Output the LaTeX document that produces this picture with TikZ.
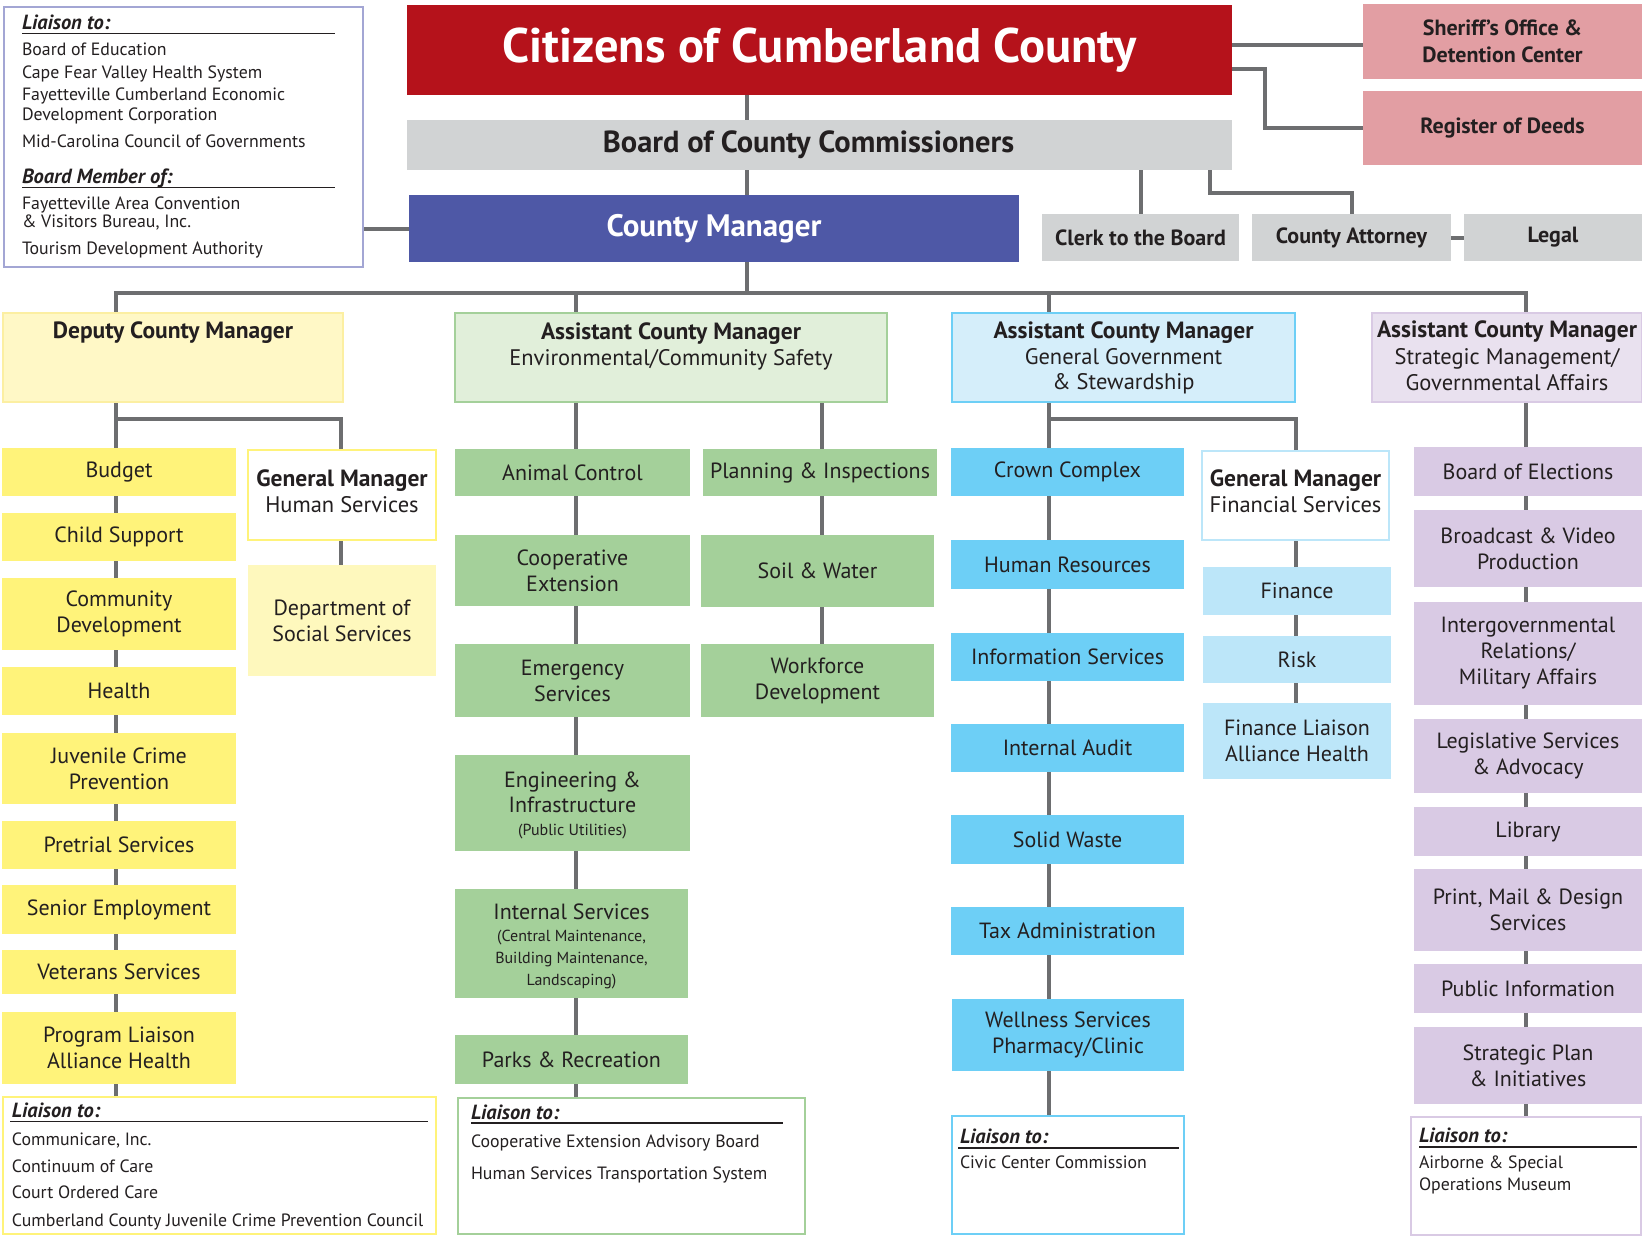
\documentclass[tikz,border=0pt]{standalone}
\usepackage{fontspec}
\setmainfont{PT Sans}
\usetikzlibrary{backgrounds}

\definecolor{ink}{HTML}{231F20}
\definecolor{linegray}{HTML}{6D6E70}
\definecolor{cred}{HTML}{B5121B}
\definecolor{cgray}{HTML}{D1D3D4}
\definecolor{cblue}{HTML}{4E58A6}
\definecolor{cpink}{HTML}{E29EA3}
\definecolor{cframe}{HTML}{A3A6D4}
\definecolor{yhead}{HTML}{FFF8C6}
\definecolor{yheadline}{HTML}{FCEFA2}
\definecolor{ybox}{HTML}{FFF37A}
\definecolor{ylight}{HTML}{FEF8BD}
\definecolor{ghead}{HTML}{E1EFDA}
\definecolor{gbox}{HTML}{A4D09A}
\definecolor{bhead}{HTML}{D5EEFA}
\definecolor{bbox}{HTML}{6DCFF6}
\definecolor{blight}{HTML}{BCE6F9}
\definecolor{phead}{HTML}{E9E1EF}
\definecolor{pbox}{HTML}{D9CAE4}

\newcommand\bodyfont{\fontsize{22}{26}\selectfont}
\newcommand\smallfont{\fontsize{16}{21.5}\selectfont}
\newcommand\headbf[1]{{\fontsize{23.5}{26}\selectfont\bfseries #1}}

\tikzset{
  x=1pt, y=-1pt,
  box/.style={inner sep=0pt, outer sep=0pt, align=center, text=ink, font=\bodyfont},
  redbox/.style={box, fill=cred, text=white, font=\fontsize{48.5}{52}\selectfont\bfseries},
  graybox/.style={box, fill=cgray},
  mgrbox/.style={box, fill=cblue, text=white, font=\fontsize{31}{34}\selectfont\bfseries},
  pinkbox/.style={box, fill=cpink, font=\fontsize{22}{27}\selectfont\bfseries},
  framebox/.style={box, fill=white, draw=cframe, line width=1.5pt},
  yhd/.style={box, fill=yhead, draw=yheadline, line width=1.5pt},
  ybx/.style={box, fill=ybox},
  ywhite/.style={box, fill=white, draw=ybox, line width=1.5pt},
  ylt/.style={box, fill=ylight},
  ghd/.style={box, fill=ghead, draw=gbox, line width=1.5pt},
  gbx/.style={box, fill=gbox},
  gwhite/.style={box, fill=white, draw=gbox, line width=1.5pt},
  bhd/.style={box, fill=bhead, draw=bbox, line width=1.5pt},
  bbx/.style={box, fill=bbox},
  bwhite/.style={box, fill=white, draw=bbox, line width=1.5pt},
  blt/.style={box, fill=blight},
  bltwhite/.style={box, fill=white, draw=blight, line width=1.5pt},
  phd/.style={box, fill=phead, draw=pbox, line width=1.5pt},
  pbx/.style={box, fill=pbox},
  pwhite/.style={box, fill=white, draw=pbox, line width=1.5pt},
  headtext/.style={box, align=center, font=\fontsize{22.5}{26}\selectfont},
  conn/.style={draw=linegray, line width=4pt},
  rule/.style={draw=ink, line width=1.5pt},
  lt/.style={anchor=west, inner sep=0pt, outer sep=0pt, text=ink,
    font=\fontsize{17.8}{20}\selectfont, text height=12.5pt, text depth=0pt},
  lhead/.style={lt, font=\fontsize{20.5}{22}\selectfont\bfseries\itshape, text height=14.3pt},
}

% box from its corners: name, x1, y1, x2, y2, style, text
\newcommand\bx[7]{\node[#6, minimum width=#4pt-#2pt, minimum height=#5pt-#3pt]
  (#1) at ({(#2+#4)/2},{(#3+#5)/2}) {#7};}
% one line of a liaison list: name, x, y, style, text
\newcommand\litem[5]{\node[#4] (#1) at (#2,#3) {#5};}

\begin{document}
\begin{tikzpicture}
\useasboundingbox (0,0) rectangle (1642,1237);

% ---------- top level ----------
\bx{cit}{407}{5}{1232}{95}{redbox}{Citizens of Cumberland County}
\bx{board}{407}{120}{1232}{170}{graybox, font=\fontsize{30.5}{33}\selectfont\bfseries}{Board of County Commissioners\hspace*{22pt}}
\bx{cm}{409}{195}{1019}{262}{mgrbox}{County Manager}
\bx{sher}{1363}{4}{1642}{79}{pinkbox}{Sheriff’s Office \&\\Detention Center}
\bx{reg}{1363}{91}{1642}{165}{pinkbox}{Register of Deeds}
\bx{clerk}{1042}{214}{1239}{261}{graybox, font=\fontsize{22}{26}\selectfont\bfseries}{Clerk to the Board}
\bx{att}{1252}{214}{1451}{261}{graybox, font=\fontsize{22}{26}\selectfont\bfseries}{County Attorney}
\bx{legal}{1464}{214}{1642}{261}{graybox, font=\fontsize{22}{26}\selectfont\bfseries}{Legal}

% liaison list of the County Manager
\bx{tlia}{4}{7}{363}{267}{framebox}{}
\litem{tl0}{22}{22}{lhead}{Liaison to:}
\draw[rule] (22,33.5) -- (335,33.5);
\litem{tl1}{22}{49}{lt}{Board of Education}
\litem{tl2}{22}{72}{lt}{Cape Fear Valley Health System}
\litem{tl3}{22}{94}{lt}{Fayetteville Cumberland Economic}
\litem{tl4}{22}{114}{lt}{Development Corporation}
\litem{tl5}{22}{141}{lt}{Mid-Carolina Council of Governments}
\litem{tl6}{22}{176}{lhead}{Board Member of:}
\draw[rule] (22,187.5) -- (335,187.5);
\litem{tl7}{22}{203}{lt}{Fayetteville Area Convention}
\litem{tl8}{22}{221}{lt}{\& Visitors Bureau, Inc.}
\litem{tl9}{22}{248}{lt}{Tourism Development Authority}

% ---------- division heads ----------
\bx{dep}{3}{313}{343}{402}{yhd}{}
\node[headtext] (depT) at (173,333) {\headbf{Deputy County Manager}};
\bx{env}{455}{313}{887}{402}{ghd}{}
\node[headtext] (envT) at (671,346) {\headbf{Assistant County Manager}\\Environmental/Community Safety};
\bx{gg}{952}{313}{1295}{402}{bhd}{}
\node[headtext, font=\fontsize{22.5}{25.5}\selectfont] (ggT) at (1123.5,358) {\headbf{Assistant County Manager}\\General Government\\\& Stewardship};
\bx{st}{1372}{313}{1642}{402}{phd}{}
\node[headtext, font=\fontsize{22.5}{26.5}\selectfont] (stT) at (1507,356) {\headbf{Assistant County Manager}\\Strategic Management/\\Governmental Affairs};

% ---------- Deputy County Manager ----------
\bx{budget}{2}{448}{236}{496}{ybx}{Budget}
\bx{chsup}{2}{513}{236}{561}{ybx}{Child Support}
\bx{comdev}{2}{578}{236}{650}{ybx}{Community\\Development}
\bx{health}{2}{667}{236}{715}{ybx}{Health}
\bx{juv}{2}{733}{236}{804}{ybx}{Juvenile Crime\\Prevention}
\bx{pretr}{2}{821}{236}{869}{ybx}{Pretrial Services}
\bx{senior}{2}{885}{236}{934}{ybx}{Senior Employment}
\bx{veter}{2}{950}{236}{994}{ybx}{Veterans Services}
\bx{progl}{2}{1012}{236}{1084}{ybx}{Program Liaison\\Alliance Health}
\bx{gmhs}{248}{450}{436}{540}{ywhite}{}
\node[headtext] (gmhsT) at (342,491) {\headbf{General Manager}\\Human Services};
\bx{dss}{248}{565}{436}{676}{ylt}{Department of\\Social Services}

\bx{dlia}{3}{1097}{436}{1234}{ywhite}{}
\litem{dl0}{12}{1110}{lhead}{Liaison to:}
\draw[rule] (10,1121.5) -- (428,1121.5);
\litem{dl1}{12}{1139}{lt}{Communicare, Inc.}
\litem{dl2}{12}{1166}{lt}{Continuum of Care}
\litem{dl3}{12}{1192}{lt}{Court Ordered Care}
\litem{dl4}{12}{1220}{lt}{Cumberland County Juvenile Crime Prevention Council}

% ---------- Environmental / Community Safety ----------
\bx{animal}{455}{449}{690}{496}{gbx}{Animal Control}
\bx{plan}{703}{449}{937}{496}{gbx}{Planning \& Inspections}
\bx{coop}{455}{535}{690}{606}{gbx}{Cooperative\\Extension}
\bx{soil}{701}{535}{934}{607}{gbx}{Soil \& Water}
\bx{emerg}{455}{644}{690}{717}{gbx}{Emergency\\Services}
\bx{work}{701}{644}{934}{717}{gbx}{Workforce\\Development}
\bx{eng}{455}{755}{690}{851}{gbx}{}
\node[box, font=\fontsize{22}{25}\selectfont] (engT) at (572.5,805) {Engineering \&\\Infrastructure\\[-2pt]\smallfont (Public Utilities)};
\bx{intsv}{455}{889}{688}{998}{gbx}{}
\node[box] (intsvT) at (571.5,946) {Internal Services\\[-4pt]\smallfont (Central Maintenance,\\[-4pt]\smallfont Building Maintenance,\\[-4pt]\smallfont Landscaping)};
\bx{parks}{455}{1035}{688}{1084}{gbx}{Parks \& Recreation}

\bx{elia}{458}{1098}{805}{1234}{gwhite}{}
\litem{el0}{471}{1112}{lhead}{Liaison to:}
\draw[rule] (471,1123) -- (783,1123);
\litem{el1}{471}{1141}{lt}{Cooperative Extension Advisory Board}
\litem{el2}{471}{1173}{lt}{Human Services Transportation System}

% ---------- General Government & Stewardship ----------
\bx{crown}{951}{448}{1184}{496}{bbx}{Crown Complex}
\bx{hr}{951}{540}{1184}{589}{bbx}{Human Resources}
\bx{infos}{951}{633}{1184}{681}{bbx}{Information Services}
\bx{audit}{951}{724}{1184}{772}{bbx}{Internal Audit}
\bx{solid}{951}{815}{1184}{864}{bbx}{Solid Waste}
\bx{tax}{951}{907}{1184}{955}{bbx}{Tax Administration}
\bx{well}{952}{999}{1184}{1071}{bbx}{Wellness Services\\Pharmacy/Clinic}
\bx{gmfs}{1202}{451}{1389}{540}{bltwhite}{}
\node[headtext] (gmfsT) at (1295.5,491) {\headbf{General Manager}\\Financial Services};
\bx{fin}{1203}{567}{1391}{615}{blt}{Finance}
\bx{risk}{1203}{636}{1391}{683}{blt}{Risk}
\bx{finl}{1203}{703}{1391}{779}{blt}{Finance Liaison\\Alliance Health}

\bx{glia}{952}{1116}{1184}{1234}{bwhite}{}
\litem{gl0}{960}{1136}{lhead}{Liaison to:}
\draw[rule] (958,1148) -- (1179,1148);
\litem{gl1}{960}{1162}{lt}{Civic Center Commission}

% ---------- Strategic Management / Governmental Affairs ----------
\bx{elect}{1414}{447}{1642}{496}{pbx}{Board of Elections}
\bx{bcast}{1414}{510}{1642}{587}{pbx}{Broadcast \& Video\\Production}
\bx{intgov}{1414}{602}{1642}{705}{pbx}{Intergovernmental\\Relations/\\Military Affairs}
\bx{legis}{1414}{719}{1642}{793}{pbx}{Legislative Services\\\& Advocacy}
\bx{lib}{1414}{807}{1642}{856}{pbx}{Library}
\bx{print}{1414}{869}{1642}{951}{pbx}{Print, Mail \& Design\\Services}
\bx{pubinf}{1414}{964}{1642}{1013}{pbx}{Public Information}
\bx{strat}{1414}{1027}{1642}{1104}{pbx}{Strategic Plan\\\& Initiatives}

\bx{slia}{1411}{1117}{1641}{1235}{pwhite}{}
\litem{sl0}{1419}{1135}{lhead}{Liaison to:}
\draw[rule] (1419,1147) -- (1637,1147);
\litem{sl1}{1419}{1162}{lt}{Airborne \& Special}
\litem{sl2}{1419}{1184}{lt}{Operations Museum}

% ---------- reference lines for the connectors ----------
\coordinate (spine) at (747,0);
\coordinate (bus) at (0,293);
\coordinate (depx) at (116,0);
\coordinate (hsx) at (341,0);
\coordinate (envx) at (576,0);
\coordinate (envrx) at (822,0);
\coordinate (ggx) at (1049,0);
\coordinate (gfx) at (1296,0);
\coordinate (stx) at (1526,0);
\coordinate (split) at (0,419);
\coordinate (shy) at (0,45);
\coordinate (regy) at (0,69);
\coordinate (regx) at (1265,0);
\coordinate (attx) at (1210,0);
\coordinate (atty) at (0,193);

% ---------- connectors ----------
\begin{scope}[on background layer]
  \draw[conn] (spine |- cit.south) -- (spine |- board.north);
  \draw[conn] (spine |- board.south) -- (spine |- cm.north);
  \draw[conn] (spine |- cm.south) -- (spine |- bus);
  \draw[conn] (cm.west) -- (tlia.east |- cm.west);
  \draw[conn] (cit.east |- shy) -- (sher.west |- shy);
  \draw[conn] (cit.east |- regy) -| (regx |- reg.west) -- (reg.west);
  \draw[conn] (clerk.north |- board.south) -- (clerk.north);
  \draw[conn] (attx |- board.south) |- (att.north |- atty) -- (att.north);
  \draw[conn] (att.east) -- (legal.west);

  % bus to the four divisions
  \draw[conn] (depx |- dep.north) -- (depx |- bus) -- (stx |- bus) -- (stx |- st.north);
  \draw[conn] (envx |- bus) -- (envx |- env.north);
  \draw[conn] (ggx |- bus) -- (ggx |- gg.north);

  % columns
  \draw[conn] (depx |- dep.south) -- (depx |- dlia.north);
  \draw[conn] (depx |- split) -| (hsx |- dss.north);
  \draw[conn] (envx |- env.south) -- (envx |- elia.north);
  \draw[conn] (envrx |- env.south) -- (envrx |- work.north);
  \draw[conn] (ggx |- gg.south) -- (ggx |- glia.north);
  \draw[conn] (ggx |- split) -| (gfx |- finl.north);
  \draw[conn] (stx |- st.south) -- (stx |- slia.north);
\end{scope}
\end{tikzpicture}
\end{document}
